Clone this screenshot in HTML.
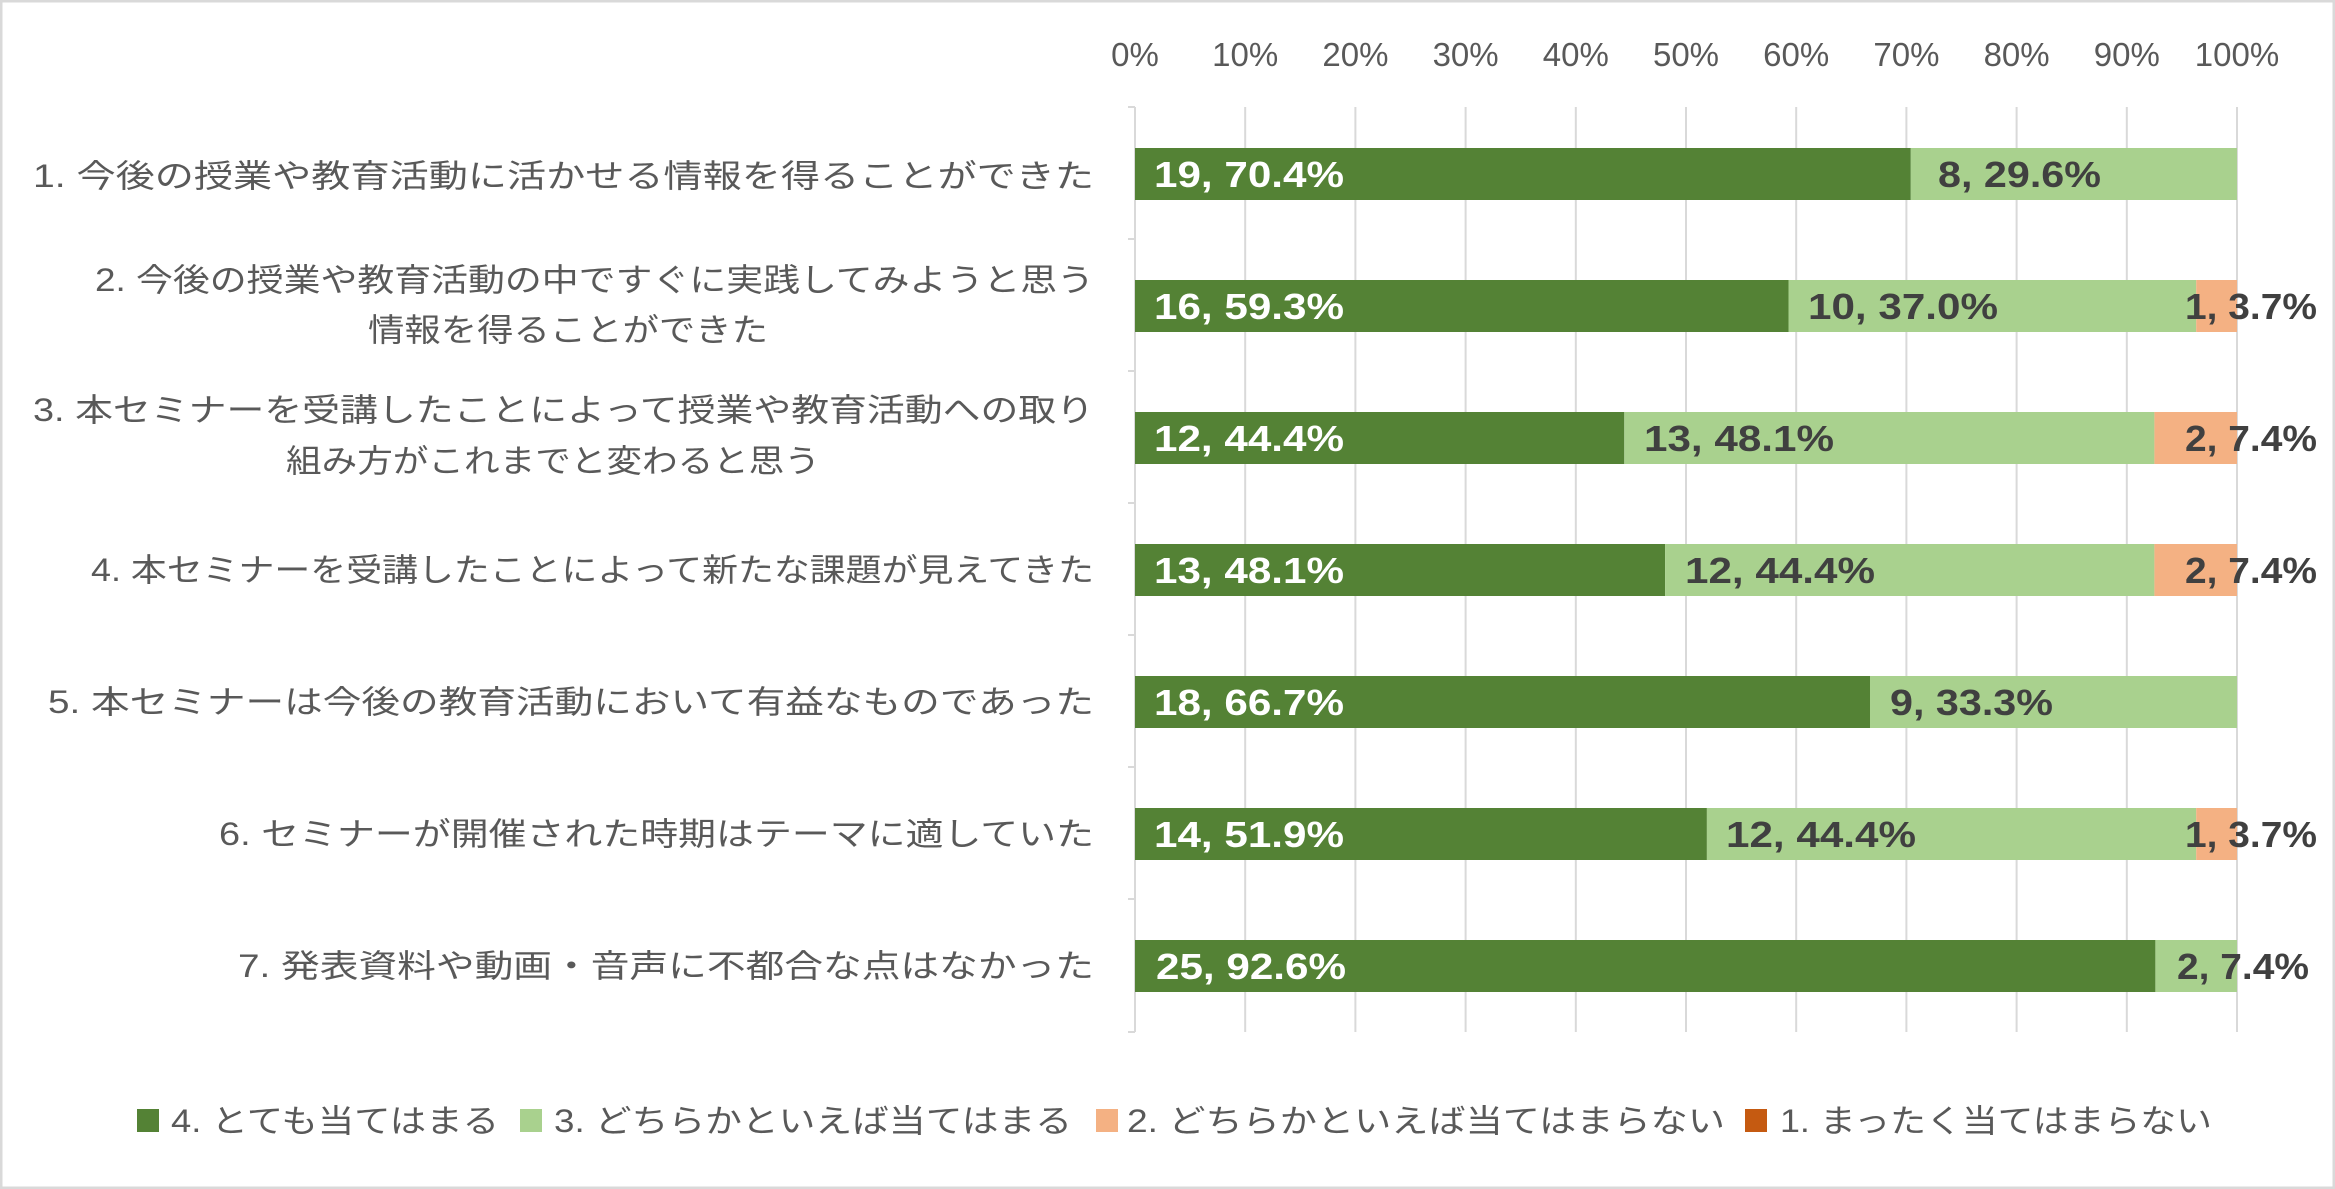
<!DOCTYPE html>
<html><head><meta charset="utf-8"><style>
html,body{margin:0;padding:0;background:#fff}
svg{display:block}
text{font-family:"Liberation Sans","Noto Sans CJK JP",sans-serif}
</style></head><body>
<svg width="2335" height="1189" viewBox="0 0 2335 1189" xmlns="http://www.w3.org/2000/svg">
<rect x="1" y="1" width="2333" height="1187" fill="#fff" stroke="#d9d9d9" stroke-width="3"/>
<g stroke="#d9d9d9" stroke-width="2">
<line x1="1135" y1="107" x2="1135" y2="1032"/>
<line x1="1245.2" y1="107" x2="1245.2" y2="1032"/>
<line x1="1355.4" y1="107" x2="1355.4" y2="1032"/>
<line x1="1465.6" y1="107" x2="1465.6" y2="1032"/>
<line x1="1575.8" y1="107" x2="1575.8" y2="1032"/>
<line x1="1686" y1="107" x2="1686" y2="1032"/>
<line x1="1796.2" y1="107" x2="1796.2" y2="1032"/>
<line x1="1906.4" y1="107" x2="1906.4" y2="1032"/>
<line x1="2016.6" y1="107" x2="2016.6" y2="1032"/>
<line x1="2126.8" y1="107" x2="2126.8" y2="1032"/>
<line x1="2237" y1="107" x2="2237" y2="1032"/>
<line x1="1128" y1="107" x2="1135" y2="107"/>
<line x1="1128" y1="239" x2="1135" y2="239"/>
<line x1="1128" y1="371" x2="1135" y2="371"/>
<line x1="1128" y1="503" x2="1135" y2="503"/>
<line x1="1128" y1="635" x2="1135" y2="635"/>
<line x1="1128" y1="767" x2="1135" y2="767"/>
<line x1="1128" y1="899" x2="1135" y2="899"/>
<line x1="1128" y1="1032" x2="1135" y2="1032"/>
</g>
<g font-size="33" fill="#595959" text-anchor="middle">
<text x="1135" y="66">0%</text>
<text x="1245.2" y="66">10%</text>
<text x="1355.4" y="66">20%</text>
<text x="1465.6" y="66">30%</text>
<text x="1575.8" y="66">40%</text>
<text x="1686" y="66">50%</text>
<text x="1796.2" y="66">60%</text>
<text x="1906.4" y="66">70%</text>
<text x="2016.6" y="66">80%</text>
<text x="2126.8" y="66">90%</text>
<text x="2237" y="66">100%</text>
</g>
<g>
<rect x="1135" y="148" width="775.8" height="52" fill="#548235"/><rect x="1910.8" y="148" width="326.2" height="52" fill="#A9D18E"/>
<rect x="1135" y="280" width="653.5" height="52" fill="#548235"/><rect x="1788.5" y="280" width="407.7" height="52" fill="#A9D18E"/><rect x="2196.2" y="280" width="40.8" height="52" fill="#F4B183"/>
<rect x="1135" y="412" width="489.3" height="52" fill="#548235"/><rect x="1624.3" y="412" width="530.1" height="52" fill="#A9D18E"/><rect x="2154.4" y="412" width="82.6" height="52" fill="#F4B183"/>
<rect x="1135" y="544" width="530.1" height="52" fill="#548235"/><rect x="1665.1" y="544" width="489.3" height="52" fill="#A9D18E"/><rect x="2154.4" y="544" width="82.6" height="52" fill="#F4B183"/>
<rect x="1135" y="676" width="735" height="52" fill="#548235"/><rect x="1870" y="676" width="367" height="52" fill="#A9D18E"/>
<rect x="1135" y="808" width="571.9" height="52" fill="#548235"/><rect x="1706.9" y="808" width="489.3" height="52" fill="#A9D18E"/><rect x="2196.2" y="808" width="40.8" height="52" fill="#F4B183"/>
<rect x="1135" y="940" width="1020.4" height="52" fill="#548235"/><rect x="2155.4" y="940" width="81.6" height="52" fill="#A9D18E"/>
</g>
<g font-size="36" font-weight="bold">
<text x="1154" y="187" fill="#fff" textLength="190" lengthAdjust="spacingAndGlyphs">19, 70.4%</text>
<text x="1938" y="187" fill="#404040" textLength="163" lengthAdjust="spacingAndGlyphs">8, 29.6%</text>
<text x="1154" y="319" fill="#fff" textLength="190" lengthAdjust="spacingAndGlyphs">16, 59.3%</text>
<text x="1808" y="319" fill="#404040" textLength="190" lengthAdjust="spacingAndGlyphs">10, 37.0%</text>
<text x="2185" y="319" fill="#404040" textLength="132" lengthAdjust="spacingAndGlyphs">1, 3.7%</text>
<text x="1154" y="451" fill="#fff" textLength="190" lengthAdjust="spacingAndGlyphs">12, 44.4%</text>
<text x="1644" y="451" fill="#404040" textLength="190" lengthAdjust="spacingAndGlyphs">13, 48.1%</text>
<text x="2185" y="451" fill="#404040" textLength="132" lengthAdjust="spacingAndGlyphs">2, 7.4%</text>
<text x="1154" y="583" fill="#fff" textLength="190" lengthAdjust="spacingAndGlyphs">13, 48.1%</text>
<text x="1685" y="583" fill="#404040" textLength="190" lengthAdjust="spacingAndGlyphs">12, 44.4%</text>
<text x="2185" y="583" fill="#404040" textLength="132" lengthAdjust="spacingAndGlyphs">2, 7.4%</text>
<text x="1154" y="715" fill="#fff" textLength="190" lengthAdjust="spacingAndGlyphs">18, 66.7%</text>
<text x="1890" y="715" fill="#404040" textLength="163" lengthAdjust="spacingAndGlyphs">9, 33.3%</text>
<text x="1154" y="847" fill="#fff" textLength="190" lengthAdjust="spacingAndGlyphs">14, 51.9%</text>
<text x="1726" y="847" fill="#404040" textLength="190" lengthAdjust="spacingAndGlyphs">12, 44.4%</text>
<text x="2185" y="847" fill="#404040" textLength="132" lengthAdjust="spacingAndGlyphs">1, 3.7%</text>
<text x="1156" y="979" fill="#fff" textLength="190" lengthAdjust="spacingAndGlyphs">25, 92.6%</text>
<text x="2177" y="979" fill="#404040" textLength="132" lengthAdjust="spacingAndGlyphs">2, 7.4%</text>
</g>
<g font-size="32" fill="#595959">
<text x="33" y="187" textLength="1061" lengthAdjust="spacingAndGlyphs">1. 今後の授業や教育活動に活かせる情報を得ることができた</text>
<text x="95" y="291" textLength="999" lengthAdjust="spacingAndGlyphs">2. 今後の授業や教育活動の中ですぐに実践してみようと思う</text>
<text x="368" y="341" textLength="400" lengthAdjust="spacingAndGlyphs">情報を得ることができた</text>
<text x="33" y="421" textLength="1061" lengthAdjust="spacingAndGlyphs">3. 本セミナーを受講したことによって授業や教育活動への取り</text>
<text x="286" y="472" textLength="534" lengthAdjust="spacingAndGlyphs">組み方がこれまでと変わると思う</text>
<text x="91" y="581" textLength="1003" lengthAdjust="spacingAndGlyphs">4. 本セミナーを受講したことによって新たな課題が見えてきた</text>
<text x="48" y="713" textLength="1046" lengthAdjust="spacingAndGlyphs">5. 本セミナーは今後の教育活動において有益なものであった</text>
<text x="219" y="845" textLength="875" lengthAdjust="spacingAndGlyphs">6. セミナーが開催された時期はテーマに適していた</text>
<text x="238" y="977" textLength="856" lengthAdjust="spacingAndGlyphs">7. 発表資料や動画・音声に不都合な点はなかった</text>
</g>
<g font-size="32" fill="#595959">
<rect x="137" y="1109" width="22" height="23" fill="#548235"/>
<text x="171" y="1132" textLength="328" lengthAdjust="spacingAndGlyphs">4. とても当てはまる</text>
<rect x="520" y="1109" width="22" height="23" fill="#A9D18E"/>
<text x="554" y="1132" textLength="518" lengthAdjust="spacingAndGlyphs">3. どちらかといえば当てはまる</text>
<rect x="1096" y="1109" width="22" height="23" fill="#F4B183"/>
<text x="1127" y="1132" textLength="598" lengthAdjust="spacingAndGlyphs">2. どちらかといえば当てはまらない</text>
<rect x="1745" y="1109" width="22" height="23" fill="#C55A11"/>
<text x="1780" y="1132" textLength="432" lengthAdjust="spacingAndGlyphs">1. まったく当てはまらない</text>
</g>
</svg>
</body></html>
